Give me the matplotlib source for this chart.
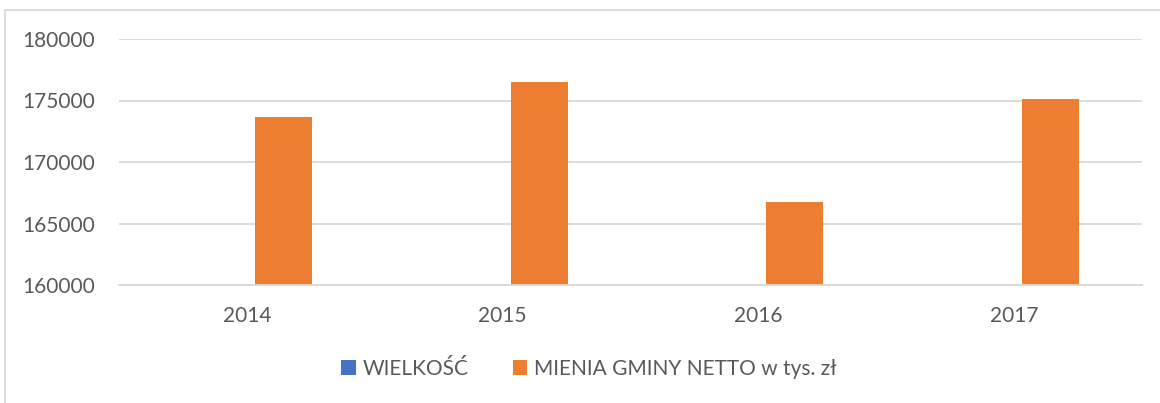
import matplotlib.pyplot as plt
import numpy as np
from matplotlib.patches import Rectangle

years = ["2014", "2015", "2016", "2017"]
wielkosc = [0, 0, 0, 0]
mienie_netto = [173630, 176500, 166770, 175150]
y_ticks = [160000, 165000, 170000, 175000, 180000]

series_names = ["WIELKOŚĆ", "MIENIA GMINY NETTO w tys. zł"]

BLUE = "#4472C4"
ORANGE = "#ED7D31"
TEXT = "#595959"
GRID = "#D9D9D9"


def main() -> None:
    plt.rcParams["font.family"] = ["Lato", "DejaVu Sans"]

    fig = plt.figure(figsize=(11.6, 4.03), dpi=100)
    ax = fig.add_axes([119 / 1160, 1 - 285 / 403, 1023 / 1160, 246 / 403])

    x = np.arange(len(years))
    width = 0.223
    gap = 0.031

    # blue series is 0, so it stays below the 160000 axis minimum
    ax.bar(x - gap, wielkosc, width=-width, align="edge",
           color=BLUE, label=series_names[0], zorder=2)
    ax.bar(x + gap, mienie_netto, width=width, align="edge",
           color=ORANGE, label=series_names[1], zorder=2)

    ax.set_xlim(-0.5, len(years) - 0.5)
    ax.set_ylim(y_ticks[0], y_ticks[-1])
    ax.set_yticks(y_ticks)
    ax.set_yticklabels([str(v) for v in y_ticks])
    ax.set_xticks(x)
    ax.set_xticklabels(years)

    ax.grid(axis="y", color=GRID, linewidth=1.3, zorder=0)
    for side in ("top", "right", "left"):
        ax.spines[side].set_visible(False)
    ax.spines["bottom"].set_color(GRID)
    ax.spines["bottom"].set_linewidth(1.3)
    ax.tick_params(axis="both", length=0, labelsize=15, colors=TEXT)
    ax.tick_params(axis="y", pad=17)
    ax.tick_params(axis="x", pad=15)

    # chart frame
    fig.patches.append(Rectangle(
        (5 / 1160, -0.1), 1.2, 1 - 10 / 403 + 0.1,
        transform=fig.transFigure, fill=False,
        edgecolor=GRID, linewidth=1.3,
    ))

    handles, labels = ax.get_legend_handles_labels()
    fig.legend(
        handles, labels,
        loc="center left",
        bbox_to_anchor=(341 / 1160, 1 - 369 / 403),
        ncol=2,
        frameon=False,
        fontsize=15,
        labelcolor=TEXT,
        borderpad=0,
        borderaxespad=0,
        handlelength=0.7,
        handleheight=0.7,
        handletextpad=0.35,
        columnspacing=2.1,
    )

    fig.savefig("out.png", dpi=100)


if __name__ == "__main__":
    main()
